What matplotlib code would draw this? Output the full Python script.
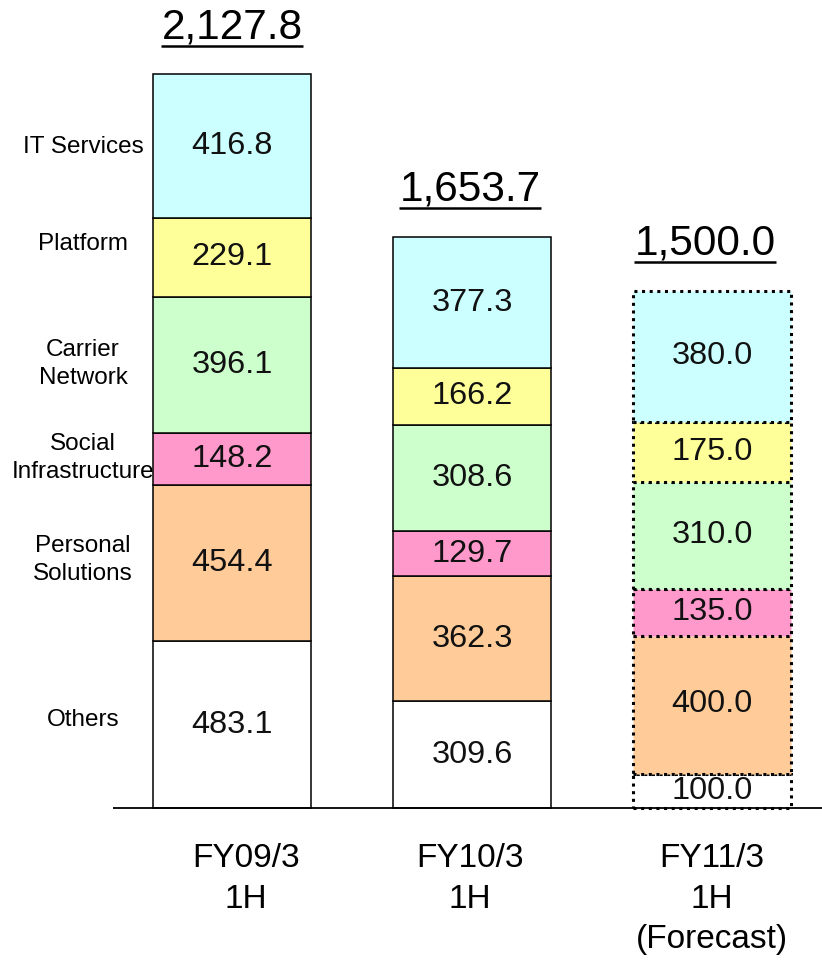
import matplotlib
matplotlib.use("Agg")
import matplotlib.pyplot as plt
import numpy as np

plt.rcParams['font.family'] = ['Liberation Sans', 'DejaVu Sans']

periods = ["FY09/3\n1H", "FY10/3\n1H", "FY11/3\n1H\n(Forecast)"]
segments = ["Others", "Personal\nSolutions", "Social\nInfrastructure",
            "Carrier\nNetwork", "Platform", "IT Services"]
others = [483.1, 309.6, 100.0]
personal = [454.4, 362.3, 400.0]
social = [148.2, 129.7, 135.0]
carrier = [396.1, 308.6, 310.0]
platform = [229.1, 166.2, 175.0]
it_services = [416.8, 377.3, 380.0]
totals = ["2,127.8", "1,653.7", "1,500.0"]
colors = ["#FFFFFF", "#FFCC99", "#FF99CC", "#CCFFCC", "#FFFF99", "#CCFFFF"]
forecast = [False, False, True]

series = [others, personal, social, carrier, platform, it_services]

W, H = 822, 965
fig = plt.figure(figsize=(W / 100, H / 100), dpi=100)
ax = fig.add_axes([0, 0, 1, 1])
ax.set_axis_off()

px_per_x = 240.0
x0_px = 232.0
base_px = 808.0
px_per_y = 0.345

ax.set_xlim(-x0_px / px_per_x, (W - x0_px) / px_per_x)
ax.set_ylim(-(H - base_px) / px_per_y, base_px / px_per_y)

def xd(px):
    return (px - x0_px) / px_per_x

def yd(py):
    return (base_px - py) / px_per_y

x = np.arange(len(periods))
width = 158 / px_per_x
bottom = np.zeros(len(periods))
for vals, col in zip(series, colors):
    vals = np.array(vals)
    for i in range(len(periods)):
        if forecast[i]:
            ax.bar(x[i], vals[i], width, bottom=bottom[i], color=col,
                   edgecolor='black', linewidth=2.2,
                   linestyle=(0, (1, 1.5)), zorder=2)
        else:
            ax.bar(x[i], vals[i], width, bottom=bottom[i], color=col,
                   edgecolor='black', linewidth=1.1, zorder=2)
        ax.text(x[i], bottom[i] + vals[i] / 2, f"{vals[i]:.1f}",
                ha='center', va='center', fontsize=23.4, color='#111111', zorder=3)
    bottom = bottom + vals

# baseline
ax.plot([xd(113), xd(822)], [0, 0], color='black', lw=1.3, zorder=4,
        solid_capstyle='butt')

# segment labels on the left
label_y = [720, 560, 458, 364, 244, 147]
for lab, py in zip(segments, label_y):
    ax.text(xd(83), yd(py), lab, ha='center', va='center', fontsize=17.5,
            linespacing=1.38, color='black')

# totals with underline
total_pos = [(232, 28), (470, 190), (705, 244)]
tot_texts = []
for t, (px, py) in zip(totals, total_pos):
    tt = ax.text(xd(px), yd(py), t, ha='center', va='center', fontsize=30.5,
                 color='black')
    tot_texts.append((tt, py))

# x labels
xl_pos = [246, 470, 712]
for lab, px in zip(periods, xl_pos):
    ax.text(xd(px), yd(843), lab, ha='center', va='top', fontsize=24,
            linespacing=1.4, color='black')

fig.canvas.draw()
r = fig.canvas.get_renderer()
for tt, py in tot_texts:
    bb = tt.get_window_extent(renderer=r)
    uy = yd(py + 18)
    x_a = ax.transData.inverted().transform((bb.x0, 0))[0]
    x_b = ax.transData.inverted().transform((bb.x1, 0))[0]
    ax.plot([x_a, x_b], [uy, uy], color='black', lw=1.8,
            solid_capstyle='butt')

fig.savefig("out.png", dpi=100)
